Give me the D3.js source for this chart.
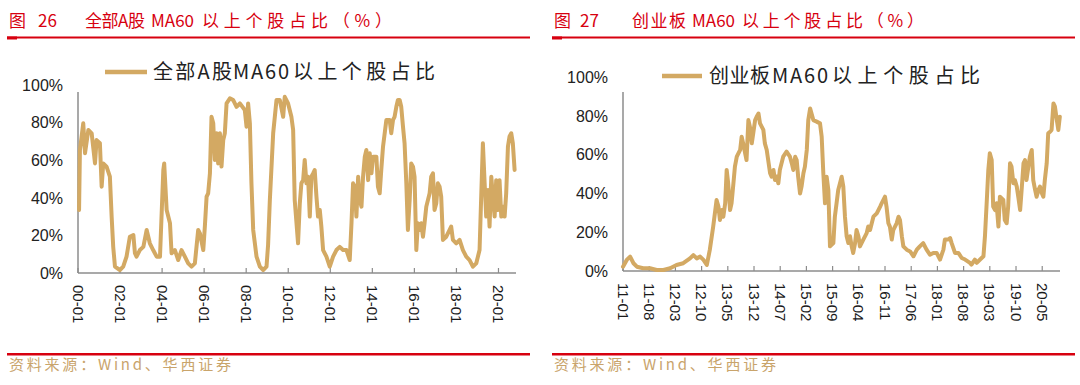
<!DOCTYPE html>
<html>
<head>
<meta charset="utf-8">
<script src="https://cdn.jsdelivr.net/npm/d3@7/dist/d3.min.js"></script>
<style>
  html, body { margin: 0; padding: 0; background: #fff; }
  svg { display: block; }
</style>
</head>
<body>
<svg id="chart" width="1080" height="385"></svg>
<script>
// ---- data: share of stocks above their 60-day MA ----

// Fig 26: all A shares. x = months since 2000-01.
const allMonths = [
  0.6, 1.1, 3.0, 4.0, 5.9, 7.8, 9.7, 10.6, 12.5, 13.5, 14.4, 16.3, 18.2, 19.2, 20.1, 21.1,
  23.9, 25.8, 27.7, 29.6, 31.6, 32.5, 33.4, 35.3, 37.3, 39.2, 41.0, 42.9, 44.9, 46.8, 48.7, 49.2,
  50.6, 52.5, 53.4, 55.3, 57.2, 59.1, 61.0, 62.9, 64.8, 66.7, 68.6, 69.6, 71.5, 72.4, 73.4, 74.3,
  75.3, 76.2, 77.2, 78.1, 79.1, 80.0, 81.0, 81.9, 82.9, 83.8, 84.8, 86.7, 88.6, 90.5, 92.4, 95.2,
  96.2, 97.1, 98.1, 99.0, 100.0, 101.9, 103.8, 105.7, 107.6, 108.5, 109.5, 111.4, 113.3, 115.2, 117.1, 118.0,
  119.9, 121.8, 122.8, 123.7, 125.6, 126.6, 127.5, 128.5, 129.4, 130.4, 131.3, 132.3, 133.2, 134.2, 135.1, 136.1,
  137.0, 138.0, 138.9, 139.9, 141.8, 143.7, 145.6, 147.5, 149.4, 151.3, 153.2, 155.1, 156.1, 157.0, 158.0, 158.9,
  159.9, 160.8, 161.8, 162.7, 163.7, 164.6, 165.6, 166.5, 167.5, 168.4, 170.3, 171.2, 172.2, 173.1, 174.1, 176.0,
  177.9, 178.8, 179.8, 180.7, 181.7, 182.6, 183.6, 184.5, 185.5, 186.4, 187.4, 188.3, 189.3, 190.2, 191.2, 192.1,
  193.1, 194.0, 195.0, 195.9, 196.9, 197.8, 198.8, 200.7, 201.6, 202.6, 203.5, 204.5, 205.4, 206.4, 207.3, 208.3,
  210.2, 212.1, 213.0, 214.0, 215.9, 217.8, 219.7, 221.6, 223.5, 225.4, 227.3, 229.2, 230.2, 231.1, 232.1, 233.0,
  234.0, 234.9, 235.9, 236.8, 237.8, 238.7, 239.7, 240.6, 241.6, 242.5, 243.5, 244.4, 245.4, 246.3, 247.3, 248.2,
  249.2
];
const allShare = [
  33.5, 65.4, 79.6, 63.7, 76.1, 74.3, 58.3, 70.7, 69.0, 45.9, 58.3, 56.6, 51.2, 30.0, 13.9, 3.4,
  1.6, 3.4, 8.7, 19.3, 20.2, 10.5, 8.7, 12.2, 13.9, 22.9, 15.8, 12.2, 8.7, 8.7, 54.8, 58.3,
  33.5, 26.5, 10.5, 12.2, 6.9, 12.2, 8.7, 5.1, 3.4, 5.1, 22.9, 21.1, 12.2, 24.7, 40.6, 42.4,
  53.0, 83.1, 79.6, 60.1, 74.3, 58.3, 74.3, 56.6, 70.7, 74.3, 90.2, 92.9, 92.0, 88.4, 90.2, 86.7,
  77.8, 90.2, 79.6, 47.7, 22.9, 8.7, 3.4, 1.6, 3.4, 15.0, 38.8, 74.3, 92.0, 92.0, 83.1, 93.7,
  90.2, 83.1, 76.1, 38.8, 15.8, 37.1, 47.7, 49.4, 60.1, 47.7, 51.2, 30.0, 51.2, 53.0, 54.8, 40.6,
  30.0, 33.5, 24.7, 12.2, 8.7, 3.4, 8.7, 12.2, 13.9, 12.2, 12.2, 6.9, 26.5, 47.7, 45.9, 30.0,
  51.2, 38.8, 35.3, 51.2, 61.9, 65.4, 49.4, 63.7, 53.0, 61.9, 61.9, 45.9, 42.4, 54.8, 67.2, 81.4,
  81.4, 74.3, 81.4, 83.1, 88.4, 92.0, 92.0, 88.4, 77.8, 69.0, 47.7, 22.9, 38.8, 58.3, 56.6, 51.2,
  12.2, 26.5, 22.9, 26.5, 19.3, 26.5, 35.3, 42.4, 51.2, 53.0, 33.5, 37.1, 47.7, 45.9, 40.6, 17.6,
  19.3, 22.9, 24.7, 17.6, 15.8, 17.6, 12.2, 8.7, 6.9, 3.4, 5.1, 12.2, 42.4, 69.0, 47.7, 30.0,
  44.1, 24.7, 51.2, 40.6, 30.0, 49.4, 33.5, 49.4, 30.0, 35.3, 30.0, 42.4, 67.2, 72.6, 74.3, 69.0,
  54.8
];
const allTickMonths = [0, 24, 48, 72, 96, 120, 144, 168, 192, 216, 240];
const allTickLabels = ["00-01", "02-01", "04-01", "06-01", "08-01", "10-01",
                       "12-01", "14-01", "16-01", "18-01", "20-01"];

// Fig 27: ChiNext. x = months since 2011-01.
const gemMonths = [
  0.0, 1.0, 1.9, 2.8, 3.7, 5.4, 7.2, 9.0, 10.8, 12.6, 14.3, 16.1, 17.9, 18.8, 19.7, 20.6,
  21.5, 22.4, 23.2, 24.1, 25.0, 25.5, 25.9, 26.4, 26.8, 27.3, 27.7, 28.1, 28.6, 29.0, 29.5, 29.9,
  30.4, 31.3, 31.7, 32.1, 33.0, 33.5, 33.9, 34.4, 34.8, 35.3, 35.7, 36.2, 36.6, 37.5, 37.9, 38.4,
  39.3, 39.7, 40.2, 40.6, 41.1, 41.5, 41.9, 42.8, 43.7, 44.6, 45.1, 45.5, 46.0, 46.4, 46.8, 47.3,
  47.7, 48.2, 48.6, 49.1, 49.5, 50.0, 50.85, 51.74, 52.63, 53.08, 53.52, 53.97, 54.41, 54.86, 55.3, 56.2,
  56.6, 57.5, 57.97, 58.42, 58.86, 59.3, 59.75, 60.2, 60.65, 61.09, 61.5, 62.0, 62.4, 62.9, 63.3, 64.2,
  65.1, 65.5, 66.0, 66.9, 67.8, 68.7, 69.1, 70.0, 70.4, 70.9, 71.3, 71.8, 72.2, 73.1, 73.6, 74.0,
  74.5, 74.9, 75.8, 76.7, 77.6, 78.5, 79.3, 80.2, 81.1, 82.0, 82.9, 83.8, 84.7, 85.6, 86.0, 86.9,
  87.4, 87.8, 88.7, 89.6, 90.5, 91.4, 92.7, 93.1, 94.0, 94.5, 95.4, 96.3, 96.7, 97.2, 97.6, 98.0,
  98.5, 98.9, 99.4, 99.8, 100.3, 100.7, 101.6, 102.0, 102.5, 102.9, 103.4, 103.8, 104.3, 104.7, 105.2, 105.6,
  106.1, 106.5, 107.0, 107.4, 107.8, 108.3, 108.7, 109.2, 109.6, 110.1, 110.5, 111.0, 111.4, 111.9, 112.3, 112.7,
  113.2, 113.6, 114.1, 114.5, 115.0, 115.4, 115.9, 116.3, 116.7
];
const gemShare = [
  2.2, 5.7, 7.4, 4.0, 2.2, 1.4, 1.4, 0.5, 0.5, 1.4, 3.1, 4.0, 6.5, 8.2, 6.5, 7.4,
  5.7, 3.1, 11.0, 22.9, 36.6, 33.2, 26.3, 31.4, 28.0, 34.9, 52.1, 45.2, 31.4, 34.9, 45.2, 53.8,
  58.9, 62.4, 69.2, 65.8, 57.2, 77.8, 74.4, 65.8, 71.0, 77.8, 79.5, 81.2, 76.1, 72.7, 65.8, 62.4,
  50.4, 48.6, 52.1, 46.9, 48.6, 45.2, 52.1, 58.9, 61.5, 58.9, 55.5, 52.1, 58.9, 57.2, 48.6, 39.9,
  43.5, 50.4, 53.8, 62.4, 77.8, 83.8, 77.8, 77.0, 76.1, 69.2, 50.4, 34.9, 48.6, 41.8, 12.7, 14.4,
  28.0, 41.8, 45.2, 48.6, 43.5, 28.0, 17.9, 14.4, 17.9, 12.7, 9.3, 14.4, 21.1, 17.9, 12.7, 16.2,
  19.5, 22.9, 21.1, 28.0, 29.7, 33.2, 34.9, 38.3, 33.2, 24.6, 22.9, 16.2, 21.1, 24.6, 28.0, 26.3,
  17.9, 12.7, 11.0, 10.1, 7.6, 11.0, 12.7, 14.4, 11.0, 8.4, 9.3, 9.3, 5.9, 11.0, 16.2, 16.2,
  17.0, 14.4, 9.3, 9.3, 6.7, 5.9, 4.2, 3.3, 5.9, 4.2, 5.9, 7.6, 17.9, 36.6, 52.1, 60.7,
  57.2, 33.2, 31.4, 34.9, 22.9, 38.3, 36.6, 26.3, 24.6, 33.2, 55.5, 53.8, 45.2, 46.9, 43.5, 38.3,
  31.4, 41.8, 55.5, 57.2, 46.9, 53.8, 58.9, 62.4, 46.9, 41.8, 38.3, 41.8, 43.5, 40.1, 38.3, 46.9,
  55.5, 71.0, 71.8, 72.7, 86.4, 84.7, 77.8, 72.7, 79.5
];
const gemTickMonths = [0, 7, 14, 21, 28, 35, 42, 49, 56, 63, 70, 77, 84, 91, 98, 105, 112];
const gemTickLabels = ["11-01", "11-08", "12-03", "12-10", "13-05", "13-12", "14-07", "15-02", "15-09",
                       "16-04", "16-11", "17-06", "18-01", "18-08", "19-03", "19-10", "20-05"];

const yTicks = [0, 20, 40, 60, 80, 100];

// ---- styles ----
const RED = "#d7000f";
const LINE = "#d3a963";
const AXIS = "#8c8c8c";
const CJK = "'Noto Sans CJK SC', 'Noto Sans', sans-serif";
const LATIN = "'Liberation Sans', Arial, sans-serif";

const svg = d3.select("#chart");

// text made of pieces; a piece with a length gets fitted into that slot
function pieces(sel, parts) {
  parts.forEach(([txt, px, len]) => {
    const t = sel.append("tspan").attr("x", px).text(txt);
    if (len) t.attr("textLength", len).attr("lengthAdjust", "spacing");
  });
}

function drawPanel(p) {
  const g = svg.append("g");

  // red figure title + rule
  const title = g.append("text")
    .attr("y", 27)
    .attr("fill", RED)
    .attr("font-family", CJK)
    .attr("font-size", 17);
  title.append("tspan").attr("x", p.left + 2).text("图");
  title.append("tspan").attr("x", p.numX).text(p.num);
  pieces(title, p.titleParts);
  g.append("rect").attr("x", p.left).attr("y", 36.5).attr("width", p.right - p.left).attr("height", 2).attr("fill", RED);
  g.append("rect").attr("x", p.left).attr("y", 36.5).attr("width", 10).attr("height", 3).attr("fill", RED);

  // scales
  const x = d3.scaleLinear().domain(p.xDomain).range(p.xRange);
  const y = d3.scaleLinear().domain([0, 100]).range(p.yRange);

  // y labels (no tick marks), axis line stops at plotTop
  g.append("g")
    .selectAll("text")
    .data(yTicks)
    .join("text")
    .attr("x", p.xRange[0] - 15)
    .attr("y", d => y(d))
    .attr("dy", "0.36em")
    .attr("text-anchor", "end")
    .attr("font-family", LATIN)
    .attr("font-size", 16)
    .attr("fill", "#222")
    .text(d => d + "%");
  g.append("line")
    .attr("x1", p.xRange[0]).attr("x2", p.xRange[0])
    .attr("y1", y(0)).attr("y2", p.plotTop)
    .attr("stroke", AXIS).attr("stroke-width", 1.5);

  // x axis with inward ticks and rotated labels
  const xAxis = g.append("g").attr("transform", `translate(0,${y(0)})`);
  xAxis.append("line")
    .attr("x1", p.xRange[0]).attr("x2", p.xRange[1])
    .attr("stroke", AXIS).attr("stroke-width", 1.5);
  xAxis.selectAll("line.tick")
    .data(p.tickMonths)
    .join("line")
    .attr("class", "tick")
    .attr("x1", d => x(d)).attr("x2", d => x(d))
    .attr("y1", 0).attr("y2", -5)
    .attr("stroke", AXIS).attr("stroke-width", 1.2);
  xAxis.selectAll("text")
    .data(p.tickMonths)
    .join("text")
    .attr("transform", d => `translate(${x(d)},12) rotate(90)`)
    .attr("dy", "0.36em")
    .attr("font-family", LATIN)
    .attr("font-size", 15)
    .attr("fill", "#1a1a1a")
    .text((d, i) => p.tickLabels[i]);

  // series line
  const line = d3.line()
    .x((d, i) => x(p.months[i]))
    .y(d => y(d));
  g.append("path")
    .datum(p.values)
    .attr("d", line)
    .attr("fill", "none")
    .attr("stroke", LINE)
    .attr("stroke-width", 4)
    .attr("stroke-linejoin", "round")
    .attr("stroke-linecap", "round");

  // legend
  g.append("line")
    .attr("x1", p.legend.x).attr("x2", p.legend.x + p.legend.w)
    .attr("y1", p.legend.y).attr("y2", p.legend.y)
    .attr("stroke", LINE).attr("stroke-width", 4.5);
  const lg = g.append("text")
    .attr("y", p.legend.y)
    .attr("dy", "0.36em")
    .attr("font-family", CJK)
    .attr("font-size", 20)
    .attr("fill", "#222");
  pieces(lg, p.legendParts);

  // bottom rule + source
  g.append("rect").attr("x", p.left).attr("y", 353).attr("width", p.right - p.left).attr("height", 2.5).attr("fill", RED);
  g.append("text")
    .attr("x", p.left + 2)
    .attr("y", 370)
    .attr("font-family", CJK)
    .attr("font-size", 15)
    .attr("fill", "#c9a46b")
    .attr("textLength", 222).attr("lengthAdjust", "spacing")
    .text("资料来源：Wind、华西证券");
}

drawPanel({
  left: 7, right: 530,
  num: "26", numX: 38,
  titleParts: [["全部A股", 85, 60], ["MA60", 151], ["以上个股占比（%）", 202, 190]],
  xDomain: [0, 250], xRange: [78, 516],
  yRange: [273, 85], plotTop: 92,
  tickMonths: allTickMonths, tickLabels: allTickLabels,
  months: allMonths, values: allShare,
  legend: { x: 105, y: 72, w: 42 },
  legendParts: [["全部A股", 153, 79], ["MA60", 233, 56], ["以上个股占比", 293, 142]]
});

drawPanel({
  left: 552, right: 1075,
  num: "27", numX: 580,
  titleParts: [["创业板", 632, 54], ["MA60", 692], ["以上个股占比（%）", 742, 182]],
  xDomain: [0, 116.75], xRange: [623, 1060],
  yRange: [271, 77], plotTop: 92,
  tickMonths: gemTickMonths, tickLabels: gemTickLabels,
  months: gemMonths, values: gemShare,
  legend: { x: 662, y: 76, w: 40 },
  legendParts: [["创业板", 709, 61], ["MA60", 772, 56], ["以上个股占比", 832, 148]]
});
</script>
</body>
</html>
